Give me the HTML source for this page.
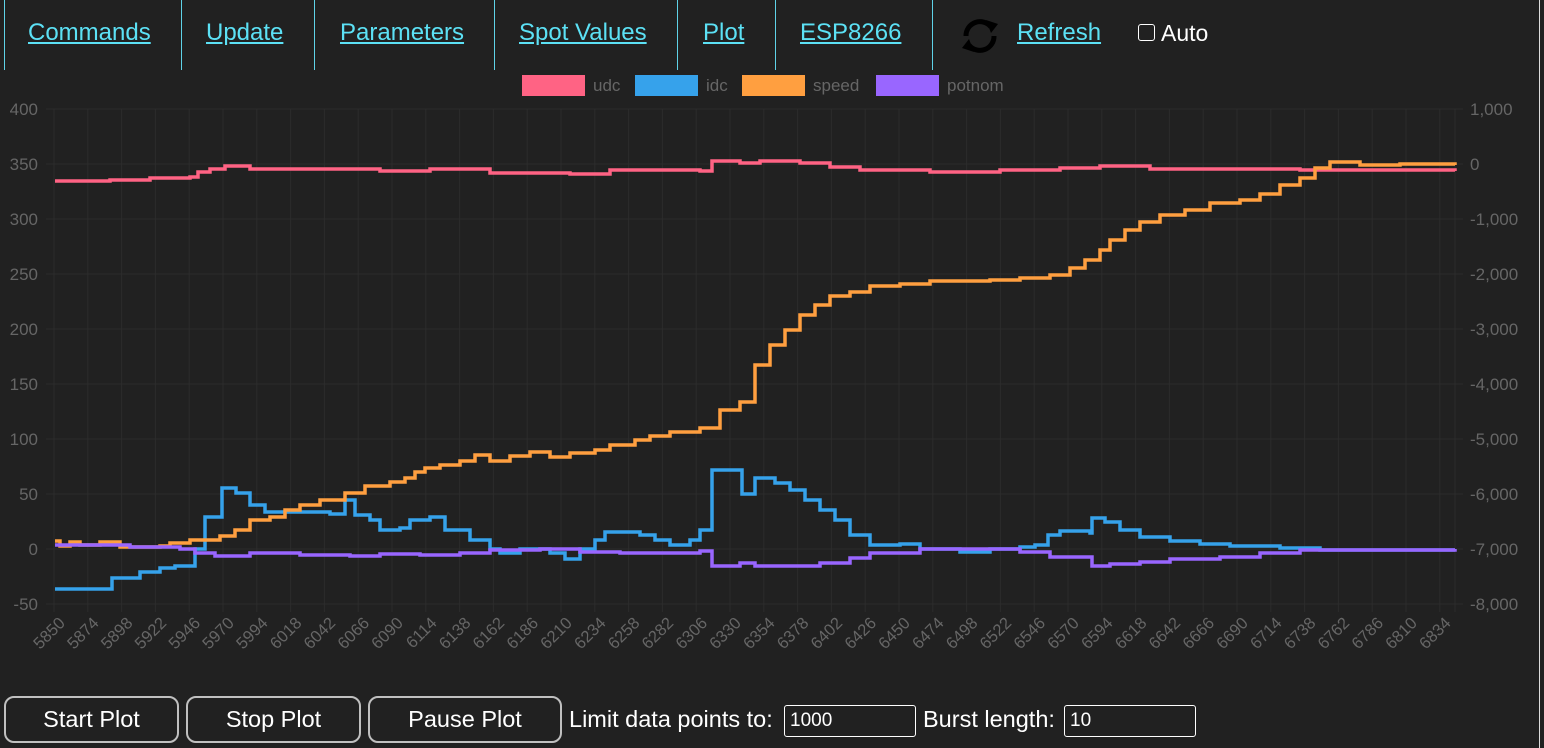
<!DOCTYPE html>
<html><head><meta charset="utf-8">
<style>
html,body{margin:0;padding:0;background:#212121;width:1544px;height:748px;overflow:hidden;font-family:"Liberation Sans",Arial,sans-serif;}
.sep{position:absolute;top:0;width:1px;height:70px;background:#5fd3e8;}
.nav{position:absolute;top:19px;font-size:24px;color:#5ce1f5;text-decoration:underline;white-space:nowrap;}
.btn{position:absolute;top:696px;border:2px solid #c0c0c0;border-radius:10px;box-sizing:border-box;height:47px;color:#fff;font-size:23.5px;text-align:center;line-height:43px;background:#212121;}
.lbl{position:absolute;color:#fff;font-size:23.5px;top:706px;white-space:nowrap;}
.inp{position:absolute;top:705px;height:32px;border:1px solid #fff;border-radius:3px;box-sizing:border-box;color:#fff;font-size:19px;line-height:30px;padding-left:5px;}
</style></head><body>
<div class="sep" style="left:4px"></div>
<div class="sep" style="left:181px"></div>
<div class="sep" style="left:314px"></div>
<div class="sep" style="left:494px"></div>
<div class="sep" style="left:677px"></div>
<div class="sep" style="left:775px"></div>
<div class="sep" style="left:932px"></div>
<div class="nav" style="left:28px">Commands</div>
<div class="nav" style="left:206px">Update</div>
<div class="nav" style="left:340px">Parameters</div>
<div class="nav" style="left:519px">Spot Values</div>
<div class="nav" style="left:703px">Plot</div>
<div class="nav" style="left:800px">ESP8266</div>
<svg style="position:absolute;left:958px;top:16px" width="44" height="40" viewBox="0 0 44 40">
<path d="M8 20 A14 14 0 0 1 33 11" stroke="#000" stroke-width="5" fill="none"/>
<polygon points="28,4 40,8 33,17" fill="#000"/>
<path d="M36 20 A14 14 0 0 1 11 29" stroke="#000" stroke-width="5" fill="none"/>
<polygon points="16,36 4,32 11,23" fill="#000"/>
</svg>
<div class="nav" style="left:1017px">Refresh</div>
<div style="position:absolute;left:1138px;top:24px;width:17px;height:17px;border:1px solid #fff;border-radius:3px;box-sizing:border-box;"></div>
<div style="position:absolute;left:1161px;top:20px;font-size:23px;color:#fff">Auto</div>
<div style="position:absolute;left:1539px;top:0;width:1px;height:748px;background:#ddd"></div>

<svg id="ch" style="position:absolute;left:0;top:0" width="1544" height="690" font-family="Liberation Sans, Arial, sans-serif"></svg>

<div class="btn" style="left:4px;width:175px">Start Plot</div>
<div class="btn" style="left:186px;width:175px">Stop Plot</div>
<div class="btn" style="left:368px;width:194px">Pause Plot</div>
<div class="lbl" style="left:569px">Limit data points to:</div>
<div class="inp" style="left:784px;width:132px">1000</div>
<div class="lbl" style="left:923px">Burst length:</div>
<div class="inp" style="left:1064px;width:132px">10</div>

<script>
var s='';
var X0=54,X1=1455,dx=33.8;
for(var i=0;i<10;i++){var y=109+i*55;s+='<line x1="'+(X0-8)+'" x2="'+(X1+8)+'" y1="'+y+'" y2="'+y+'" stroke="#2c2c2c"/>';
s+='<text x="38" y="'+(y+6)+'" text-anchor="end" fill="#666" font-size="17">'+(400-i*50)+'</text>';
var r=1000-i*1000;var rs=r.toLocaleString('en-US');
s+='<text x="1470" y="'+(y+6)+'" fill="#666" font-size="17">'+rs+'</text>';}
for(var k=0;k<42;k++){var x=X0+k*dx;s+='<line x1="'+x+'" x2="'+x+'" y1="109" y2="612" stroke="#2c2c2c"/>';
s+='<text transform="translate('+(x+12)+',624) rotate(-45)" text-anchor="end" fill="#666" font-size="16.5">'+(5850+k*24)+'</text>';}
s+='<line x1="'+X1+'" x2="'+X1+'" y1="109" y2="612" stroke="#2c2c2c"/>';
var lg=[[522,'#ff6384','udc'],[635,'#36a2eb','idc'],[742,'#ff9f40','speed'],[876,'#9966ff','potnom']];
lg.forEach(function(l){s+='<rect x="'+l[0]+'" y="75" width="63" height="21" fill="'+l[1]+'" />';
s+='<text x="'+(l[0]+71)+'" y="91" fill="#666" font-size="17">'+l[2]+'</text>';});
function step(p,c){var d='M'+p[0]+' '+p[1];for(var i=2;i<p.length;i+=2){d+=' H'+p[i]+' V'+p[i+1];}
s+='<path d="'+d+'" fill="none" stroke="'+c+'" stroke-width="3.5"/>';}
step([55,181,110,180,150,178,190,177,198,172,210,169,225,166,250,169,330,169,380,171,430,169,490,173,570,174,610,170,700,171,712,161,740,163,760,161,800,163,830,167,860,170,930,172,1000,170,1060,168,1100,166,1150,169,1300,170,1455,171],'#ff6384');
step([55,589,105,589,112,578,140,572,160,568,175,566,195,549,205,517,222,488,236,493,250,505,265,512,300,512,330,514,345,500,355,515,370,520,380,530,400,528,410,520,430,517,445,530,470,540,490,549,500,553,520,549,550,553,565,559,580,549,595,540,605,532,640,535,655,540,670,545,690,540,700,530,712,470,740,470,742,494,755,478,775,483,790,490,805,500,820,510,835,520,850,535,870,545,900,544,920,549,960,552,990,549,1020,547,1035,545,1048,535,1060,531,1090,533,1092,518,1105,522,1120,530,1140,537,1170,541,1200,544,1230,546,1280,548,1320,550,1455,550],'#36a2eb');
step([55,541,60,546,70,542,80,545,100,542,120,547,160,546,170,543,190,540,200,540,220,536,235,530,250,520,270,517,285,510,300,505,320,500,345,493,365,486,390,482,405,478,415,472,425,468,440,465,460,461,475,455,490,461,510,456,530,452,550,457,570,453,595,450,610,445,635,440,650,436,670,432,700,428,720,410,740,402,755,365,770,345,785,330,800,315,815,305,830,296,850,292,870,286,900,284,930,281,950,281,990,280,1020,278,1050,275,1070,268,1085,260,1100,250,1110,240,1125,230,1140,222,1160,215,1185,210,1210,203,1240,200,1260,194,1280,185,1300,178,1315,168,1330,162,1360,165,1400,164,1455,165],'#ff9f40');
step([55,545,130,547,180,549,195,553,215,556,250,553,300,555,350,556,380,554,420,555,460,553,490,550,540,549,580,552,620,553,700,551,712,566,740,563,755,566,800,566,820,563,850,558,870,553,920,549,990,549,1020,552,1050,557,1090,557,1092,566,1110,564,1140,562,1170,559,1220,557,1260,553,1300,550,1455,549],'#9966ff');
document.getElementById('ch').innerHTML=s;
</script>
</body></html>
